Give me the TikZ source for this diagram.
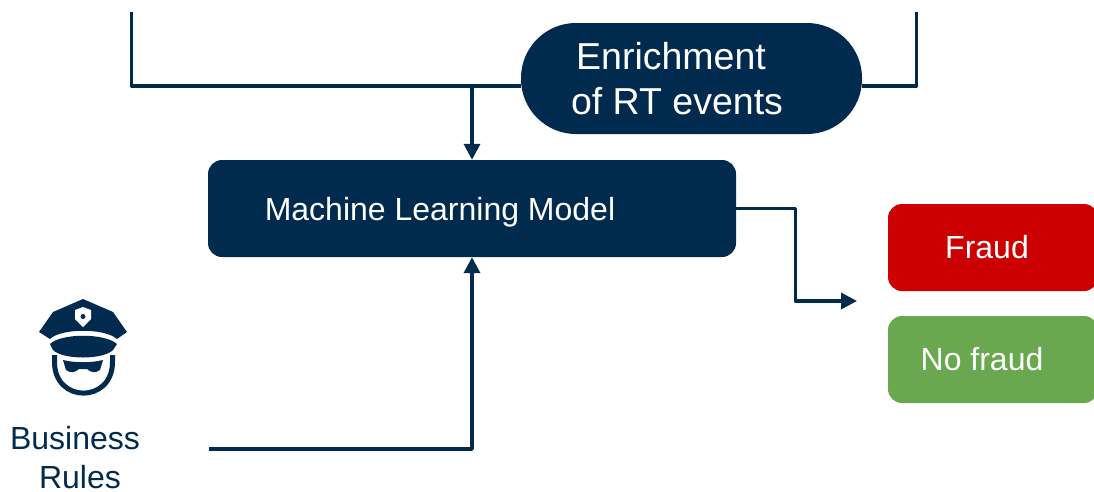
\documentclass[tikz,border=0pt]{standalone}
\usepackage{fontspec}
\setmainfont{Liberation Sans}
\usetikzlibrary{arrows.meta}
\definecolor{navy}{HTML}{002A4E}
\definecolor{fraudred}{HTML}{CC0000}
\definecolor{okgreen}{HTML}{6AA84F}
\begin{document}
\begin{tikzpicture}[x=1pt,y=-1pt,
    box/.style={fill=navy,text=white,font=\fontsize{32}{46}\selectfont,align=center,inner sep=0pt,rounded corners=14pt},
    link/.style={draw=navy,line width=3.5pt,line join=round},
    tip/.style={-{Triangle[length=16pt,width=16pt]}}]
    \useasboundingbox (0,0) rectangle (1094,491);

    % Draw the boxes
    \node[box,font=\fontsize{37.5}{45}\selectfont,minimum width=341pt,minimum height=111pt,rounded corners=55pt] (enrich) at (691.5,78.5)
        {Enrichment\hspace*{41pt}\\of RT events\hspace*{29pt}};
    \node[box,text depth=0pt,minimum width=528pt,minimum height=97pt] (model) at (472,208.5)
        {Machine Learning Model\hspace*{64pt}};
    \node[box,fill=fraudred,minimum width=210pt,minimum height=87pt] (fraud) at (993,247.5)
        {Fraud\hspace*{12pt}};
    \node[box,fill=okgreen,minimum width=210pt,minimum height=87pt] (nofraud) at (993,359.5)
        {No fraud\hspace*{22pt}};
    \node[text=navy,font=\fontsize{32}{39}\selectfont,align=center,inner sep=0pt] (rules) at (77.5,458)
        {Business\hspace*{5pt}\\\hspace*{5pt}Rules};

    % Free ends of the connectors
    \coordinate (feedL) at (131.5,12);
    \coordinate (feedR) at (916.5,12);
    \coordinate (join) at (472,86);
    \coordinate (elbow) at (795.5,301);
    \coordinate (out) at (857,301);
    \coordinate (rulesOut) at (209,449);

    % Draw the connectors
    \draw[link] (feedL) |- (enrich.west |- join);
    \draw[link] (feedR) |- (enrich.east |- join);
    \draw[link,tip] (join) -- (model.north);
    \draw[link,tip] (model.east) -| (elbow) -- (out);
    \draw[link,tip] (rulesOut) -| (model.south);

    % Draw the policeman
    \fill[navy] (83,299) -- (113,312) -- (127,332) -- (117,339)
        .. controls (105,328) and (61,328) .. (50,339) -- (39,332) -- (53,312) -- cycle;
    \fill[white] (83,307) -- (91,310) -- (91,319) -- (83,327) -- (75,319) -- (75,310) -- cycle;
    \fill[navy] (83,316.5) circle (2.5pt);
    \fill[navy] (50,344) .. controls (61,333) and (105,333) .. (117,344) -- (113,350)
        .. controls (103,360) and (63,360) .. (53,350) -- cycle;
    \draw[navy,line width=5pt] (54.5,355) -- (54.5,362) .. controls (54.5,403.5) and (112.5,403.5) .. (112.5,362) -- (112.5,355);
    \fill[navy] (63,360) .. controls (75,363) and (91,363) .. (103,360) -- (100,370)
        .. controls (96,373) and (91,373) .. (87,369) -- (79,369) .. controls (75,373) and (70,373) .. (66,370) -- cycle;
\end{tikzpicture}
\end{document}
